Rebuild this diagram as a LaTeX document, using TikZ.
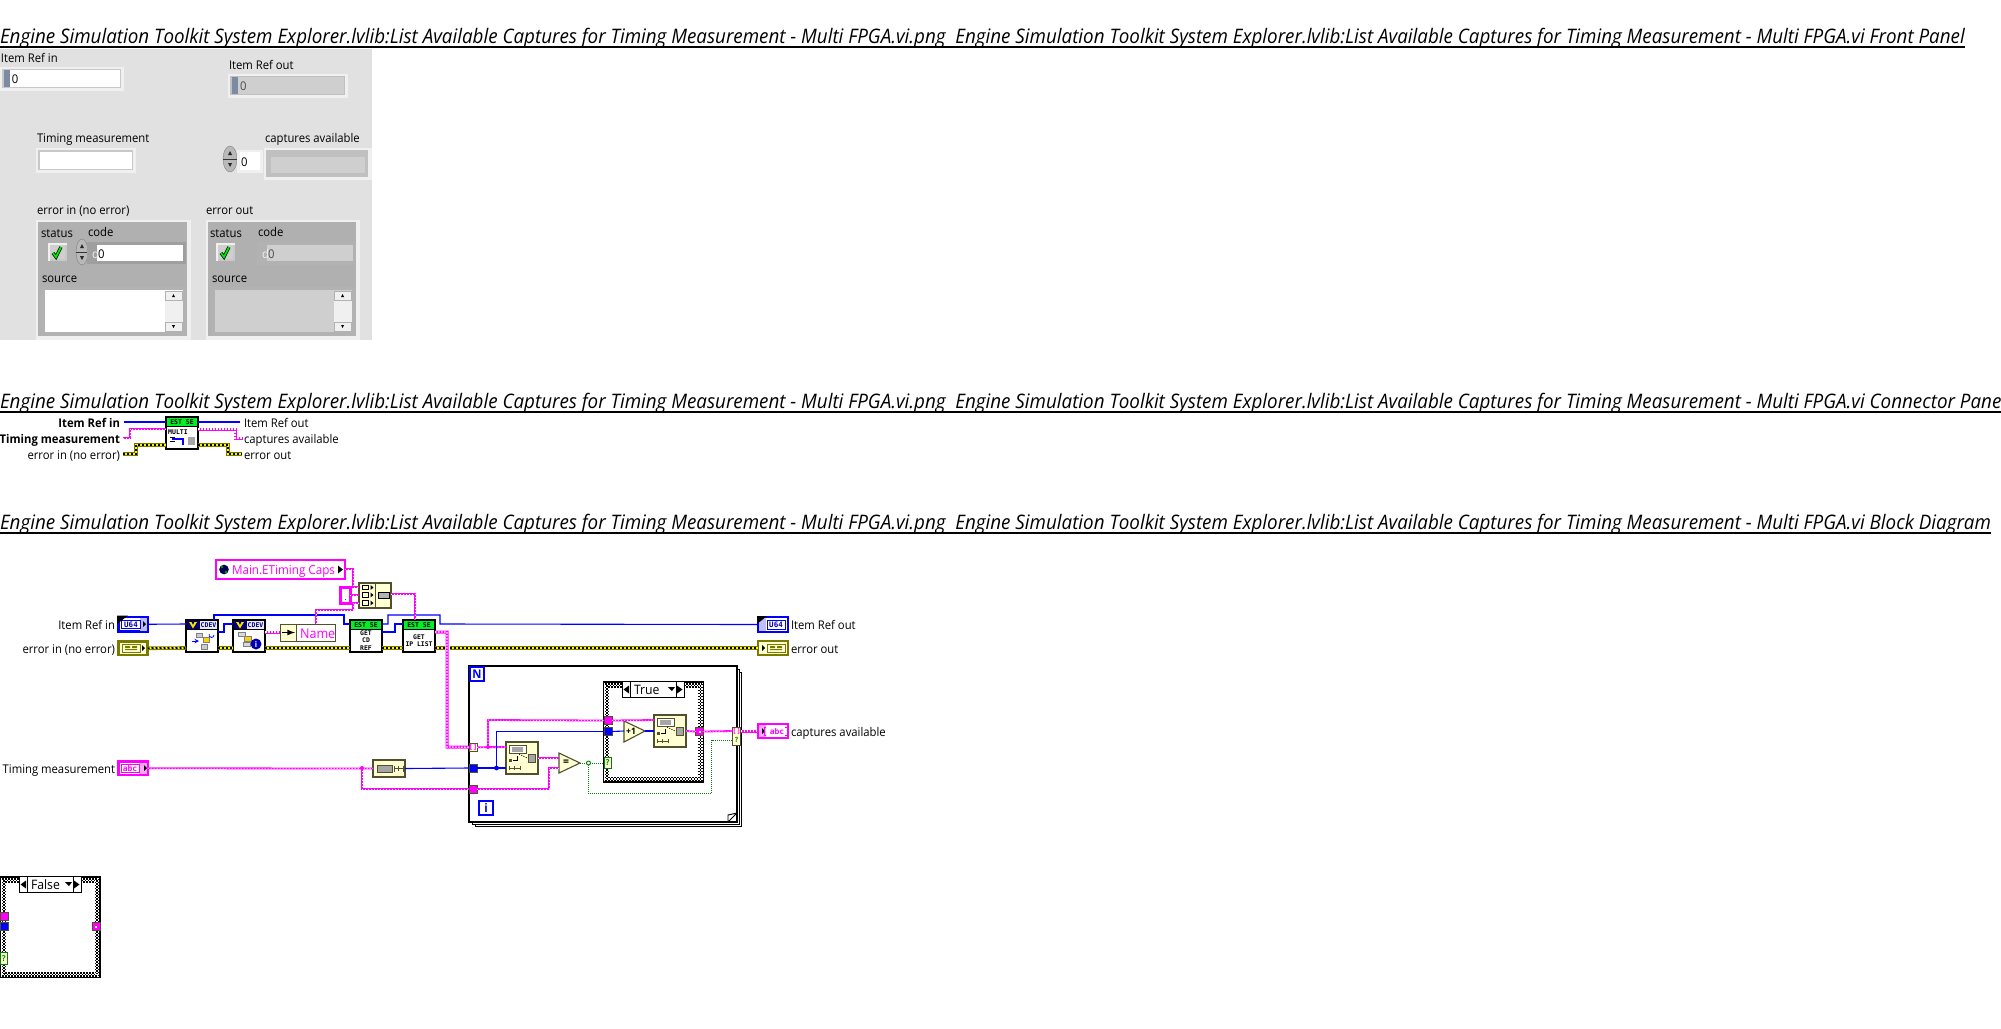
\documentclass[tikz,border=0pt]{standalone}
\usepackage{fontspec}
\setmainfont[FakeStretch=0.94]{Open Sans}
\newfontfamily\mon{DejaVu Sans Mono}
\usetikzlibrary{shapes.geometric}
\definecolor{mag}{HTML}{FF00FF}
\definecolor{pbg}{HTML}{E1E1E1}
\definecolor{clu}{HTML}{B0B0B0}
\definecolor{ind}{HTML}{CFCFCF}
\definecolor{lite}{HTML}{F0F0F0}
\definecolor{fn}{HTML}{FFFFD2}
\definecolor{fnb}{HTML}{50502E}
\definecolor{blw}{HTML}{0000FF}
\definecolor{oliv}{HTML}{7A7A00}
\definecolor{grw}{HTML}{008000}
\definecolor{slate}{HTML}{7D8AA5}
\definecolor{hdr}{HTML}{00F028}
\newcommand\labf{\fontsize{12}{14}\selectfont}
\newcommand\bx[6][]{\pgfmathsetmacro\bxcx{(#3+#5)/2}\pgfmathsetmacro\bxcy{(#4+#6)/2}\pgfmathsetmacro\bxw{#5-#3}\pgfmathsetmacro\bxh{#6-#4}\node[rect,#1,minimum width=\bxw pt,minimum height=\bxh pt] (#2) at (\bxcx,\bxcy) {};}
\newcommand\tx[4][]{\node[lab,#1] (#2) at (#3) {#4};}
\tikzset{
 x=1pt,y=-1pt,
 rect/.style={rectangle,inner sep=0pt,outer sep=0pt},
 lab/.style={inner sep=0pt,outer sep=0pt,font=\labf,text=black,anchor=base west},
 labr/.style={lab,anchor=base east},
 title/.style={inner sep=0pt,outer sep=0pt,font=\fontsize{20}{24}\selectfont\itshape,anchor=base west},
 rule/.style={draw=black,line width=2pt},
 frm/.style={fill=lite},
 bwire/.style={draw=blw,line width=1.1pt},
 pwire/.style={preaction={draw=mag,line width=1.8pt,solid},draw=white,line width=.6pt,dash pattern=on 1pt off 2pt},
 pawire/.style={preaction={draw=mag,line width=3pt,solid},draw=white,line width=1.2pt,dash pattern=on 1.5pt off 1.5pt},
 ewire/.style={preaction={draw=oliv,line width=3.6pt,solid},preaction={draw=yellow,line width=2pt,solid},draw=black,line width=2pt,dash pattern=on 2pt off 2pt},
 gwire/.style={draw=grw,line width=.9pt,dash pattern=on 1pt off 1pt},
 fnode/.style={fill=fn,draw=fnb,line width=1.1pt},
 vibox/.style={fill=white,draw=black,line width=1.1pt},
 tick/.style={font=\fontsize{7}{8}\selectfont\bfseries\mon,text=black,inner sep=0pt,align=center},
 tun/.style={draw=fnb,line width=.8pt},
 sel/.style={fill=white,draw=black,line width=1pt},
 loopb/.style={fill=white,draw=black,line width=.85pt},
 chk/.style={draw=black,line width=1.5pt,dash pattern=on 1.5pt off 1.5pt},
}
\newcommand\chkbtn[2]{\begin{scope}[shift={(#1,#2)}]
 \fill[lite] (0,0) rectangle (19,18); \fill[clu!70!white] (2,2) rectangle (19,18); \fill[ind] (2,2) rectangle (17,16);
 \draw[black,line width=3.2pt] (5,10) -- (8,14) -- (13,4);
 \draw[green!90!black,line width=1.8pt] (5,10) -- (8,14) -- (13,4);
\end{scope}}
\newcommand\spin[3]{\fill[gray!55,draw=gray] (#1,#2) ellipse (#3 and 13);
 \draw[gray!40!black,line width=.4pt] (#1-#3,#2) -- (#1+#3,#2);
 \fill[gray!30!black] (#1,#2-8) -- (#1-2,#2-4) -- (#1+2,#2-4) -- cycle;
 \fill[gray!30!black] (#1,#2+8) -- (#1-2,#2+4) -- (#1+2,#2+4) -- cycle;}
\newcommand\scroll[2]{\begin{scope}[shift={(#1,#2)}]
 \fill[gray!12] (0,0) rectangle (18,41);
 \fill[lite,draw=gray!60,line width=.5pt] (0,0) rectangle (17,9);
 \fill[lite,draw=gray!60,line width=.5pt] (0,31) rectangle (17,40);
 \fill[black] (8.5,3) -- (7,6) -- (10,6) -- cycle;
 \fill[black] (8.5,37) -- (7,34) -- (10,34) -- cycle;
\end{scope}}
\newcommand\idxicon[2]{\begin{scope}[shift={(#1,#2)}]
 \draw[fnb,fill=white,line width=.7pt] (3,3) rectangle (20,11);
 \fill[gray!70] (6,4.5) rectangle (17,9.5);
 \fill[gray!70,draw=fnb,line width=.5pt] (22,12) rectangle (29,20);
 \fill[fnb] (3,17) rectangle (6,20);
 \draw[black,line width=.8pt] (7,18) -- (11,18) -- (11,14);
 \draw[black,line width=.8pt,dash pattern=on 1pt off 1.5pt] (13,12) -- (21,16);
 \draw[fnb,line width=.8pt] (3,24) -- (3,28) (3,26) -- (14,26) (8,24) -- (8,28) (14,24) -- (14,28);
\end{scope}}
\newcommand\casestr[5]{\bx[fill=white,draw=black,line width=1.4pt]{#1}{#2}{#3}{#4}{#5}
 \foreach \dd in {1.75,3.25,4.75}{
  \draw[chk] (#2+\dd,#3+\dd) -- (#4-\dd,#3+\dd);
  \draw[chk] (#2+\dd,#5-\dd) -- (#4-\dd,#5-\dd);
  \draw[chk] (#2+\dd,#3+\dd) -- (#2+\dd,#5-\dd);
  \draw[chk] (#4-\dd,#3+\dd) -- (#4-\dd,#5-\dd);}}
\newcommand\selector[4]{\bx[sel]{#1}{#2}{#3}{#2+62}{#3+16}
 \draw[black,line width=1pt] (#2+8,#3) -- (#2+8,#3+16) (#2+54,#3) -- (#2+54,#3+16);
 \fill[black] (#2+1.5,#3+8) -- (#2+7,#3+4) -- (#2+7,#3+12) -- cycle;
 \fill[black] (#2+60.5,#3+8) -- (#2+55,#3+4) -- (#2+55,#3+12) -- cycle;
 \fill[black] (#2+50,#3+9.5) -- (#2+46,#3+5.5) -- (#2+53,#3+5.5) -- cycle;
 \node[lab,anchor=base west,font=\fontsize{13}{14}\selectfont] at (#2+12,#3+12.5) {#4};}
\newcommand\cdev[3]{\bx[vibox]{#1}{#2}{#3}{#2+32}{#3+32}
 \fill[blue!45!black] (#2+.6,#3+.6) rectangle (#2+14,#3+9);
 \fill[blue!8] (#2+14,#3+.6) rectangle (#2+31.4,#3+9);
 \fill[yellow!85!orange] (#2+3,#3+2) -- (#2+7,#3+8.5) -- (#2+11,#3+2) -- (#2+8.5,#3+2) -- (#2+7,#3+5) -- (#2+5.5,#3+2) -- cycle;
 \node[font=\fontsize{6.5}{7}\selectfont\bfseries\mon,text=blue!50!black,inner sep=0pt] at (#2+22.5,#3+4.8) {CDEV};
 \draw[draw=black,line width=1pt] (#2,#3+9) -- (#2+32,#3+9);}
\newcommand\estn[4]{\bx[vibox]{#1}{#2}{#3}{#2+32}{#3+32}
 \fill[hdr] (#2+.6,#3+.6) rectangle (#2+31.4,#3+9);
 \draw[black,line width=1pt] (#2,#3+9) -- (#2+32,#3+9);
 \node[tick,font=\fontsize{6.5}{7}\selectfont\bfseries\mon] at (#2+16,#3+4.8) {EST SE};
 \node[tick,font=\fontsize{6.4}{7.4}\selectfont\bfseries\mon] at (#2+16,#3+20.5) {#4};}
\begin{document}
\begin{tikzpicture}
\useasboundingbox (0,0) rectangle (2001,1028);
\fill[white] (0,0) rectangle (2001,1028);
% ---------- titles
\node[title] (t1) at (0,43.5) {Engine Simulation Toolkit System Explorer.lvlib:List Available Captures for Timing Measurement - Multi FPGA.vi.png\ \ Engine Simulation Toolkit System Explorer.lvlib:List Available Captures for Timing Measurement - Multi FPGA.vi Front Panel};
\draw[rule] (t1.base west|-0,46.5) -- (t1.base east|-0,46.5);
\node[title] (t2) at (0,408.5) {Engine Simulation Toolkit System Explorer.lvlib:List Available Captures for Timing Measurement - Multi FPGA.vi.png\ \ Engine Simulation Toolkit System Explorer.lvlib:List Available Captures for Timing Measurement - Multi FPGA.vi Connector Pane};
\draw[rule] (t2.base west|-0,411.5) -- (t2.base east|-0,411.5);
\node[title] (t3) at (0,529.5) {Engine Simulation Toolkit System Explorer.lvlib:List Available Captures for Timing Measurement - Multi FPGA.vi.png\ \ Engine Simulation Toolkit System Explorer.lvlib:List Available Captures for Timing Measurement - Multi FPGA.vi Block Diagram};
\draw[rule] (t3.base west|-0,532.5) -- (t3.base east|-0,532.5);
% ---------- front panel
\bx[fill=pbg]{panel}{0}{49}{372}{340}
\tx{l1}{1,62}{Item Ref in}
\bx[frm]{f1}{0}{67}{124}{91}
\bx[fill=clu!70!white]{f1b}{2}{69}{121}{88}
\bx[fill=white]{f1c}{4}{70}{120}{87}
\bx[fill=slate]{f1d}{4}{70}{10}{87}
\tx{v1}{12,83}{0}
\tx{l2}{229,69}{Item Ref out}
\bx[frm]{f2}{228}{74}{348}{98}
\bx[fill=clu!80!white]{f2b}{230}{76}{345}{95}
\bx[fill=ind]{f2c}{232}{77}{344}{94}
\bx[fill=slate]{f2d}{232}{77}{238}{94}
\tx[text=black!70]{v2}{240,90}{0}
\tx{l3}{37,142}{Timing measurement}
\bx[frm]{f3}{36}{148}{136}{173}
\bx[fill=clu!70!white]{f3b}{38}{150}{133}{170}
\bx[fill=white]{f3c}{40}{152}{132}{169}
\tx{l4}{265,142}{captures available}
\bx[frm]{f4}{264}{148}{372}{180}
\bx[fill=clu!80!white]{f4b}{266}{150}{368}{177}
\bx[fill=ind]{f4c}{271}{157}{365}{173}
\spin{230}{159}{7}
\bx[frm]{f5}{237}{150}{263}{173}
\bx[fill=white]{f5b}{240}{152}{260}{170}
\tx{v5}{241,166}{0}
\tx{l5}{37,214}{error in (no error)}
\bx[fill=lite]{c1}{36}{220}{191}{340}
\bx[fill=clu]{c1b}{38}{222}{187}{336}
\tx{l6}{41,237}{status}
\tx{l7}{88,236}{code}
\chkbtn{48}{243}
\spin{82}{252}{6}
\bx[fill=gray!75]{c1c}{87}{242}{186}{264}
\bx[fill=white]{c1d}{97}{245}{183}{261}
\tx[text=lite]{c1dl}{92,258}{d}
\tx{v6}{98,258}{0}
\tx{l8}{42,282}{source}
\bx[fill=gray!60]{s1}{41}{287}{187}{336}
\bx[fill=white]{s1b}{45}{290}{183}{332}
\scroll{165}{291}
\tx{l9}{206,214}{error out}
\bx[fill=lite]{c2}{206}{220}{360}{340}
\bx[fill=clu]{c2b}{208}{222}{356}{336}
\tx{l10}{210,237}{status}
\tx{l11}{258,236}{code}
\chkbtn{216}{243}
\bx[fill=gray!60]{c2c}{257}{242}{356}{265}
\bx[fill=ind]{c2d}{267}{245}{353}{261}
\tx[text=lite]{c2dl}{262,258}{d}
\tx[text=black!70]{v7}{268,258}{0}
\tx{l12}{212,282}{source}
\bx[fill=gray!60]{s2}{211}{287}{356}{336}
\bx[fill=ind]{s2b}{215}{290}{352}{332}
\scroll{334}{291}
% ---------- connector pane
\estn{cp}{166}{417}{}
\node[tick,font=\fontsize{6.5}{7.4}\selectfont\bfseries\mon,anchor=west] (cptx) at (168,432) {MULTI};
\draw[black,line width=.9pt] (170,437) -- (175,437) (170,441) -- (175,441);
\draw[blue,line width=1.4pt] (172,439) -- (183,439) -- (183,445);
\fill[gray!70] (188,437) rectangle (195,445);
\node[labr,font=\labf\bfseries] (cl1) at (120,427) {Item Ref in};
\node[labr,font=\labf\bfseries] (cl2) at (120,443) {Timing measurement};
\node[labr] (cl3) at (120,459) {error in (no error)};
\node[lab] (cl4) at (244,427) {Item Ref out};
\node[lab] (cl5) at (244,443) {captures available};
\node[lab] (cl6) at (244,459) {error out};
\draw[bwire] ([xshift=4pt]cl1.east|-0,422) -- (cp.west|-0,422);
\draw[bwire] (cp.east|-0,422) -- ([xshift=-4pt]cl4.west|-0,422);
\draw[pwire] (123,438) -- (130,438) -- (130,429) -- (cp.west|-0,429);
\draw[pawire] (cp.east|-0,429) -- (235,429) -- (235,438) -- (243,438);
\draw[ewire] (123,454) -- (136,454) -- (136,445) -- (cp.west|-0,445);
\draw[ewire] (cp.east|-0,445) -- (228,445) -- (228,454) -- (242,454);
% ---------- block diagram: nodes
\node[labr] (bl1) at (115,629) {Item Ref in};
\node[labr] (bl2) at (115,653) {error in (no error)};
\node[labr] (bl3) at (115,773) {Timing measurement};
\bx[fill=white,draw=blue,line width=2.4pt]{tr1}{118.5}{617}{147.5}{631.5}
\bx[fill=blue!25,draw=none]{tr1a}{140}{618}{146.5}{630.5}
\draw[blue,line width=.8pt] (121.5,620) rectangle (140,628.5);
\fill[black] (117,615.5) -- (128,615.5) -- (117,624) -- cycle;
\fill[black] (146,624) -- (143,621) -- (143,627) -- cycle;
\node[font=\fontsize{7.5}{8}\selectfont\bfseries\mon,text=blue!70!black,inner sep=0pt] (tr1t) at (131,624.5) {U64};
\bx[fill=fn,draw=oliv,line width=2.4pt]{tr2}{118.5}{641.5}{147.5}{655}
\draw[oliv,line width=.8pt] (122,644) rectangle (140,652);
\fill[oliv] (125,646) rectangle (130,648) (132,646) rectangle (137,648) (125,649) rectangle (137,650);
\fill[black] (145,648) -- (142,645) -- (142,651) -- cycle;
\bx[fill=white,draw=mag,line width=2.4pt]{tr3}{118.5}{761.5}{147.5}{775}
\bx[fill=mag!35,draw=none]{tr3a}{139}{762.5}{146.5}{774}
\draw[mag,line width=.8pt] (121.5,764) rectangle (139,772);
\node[font=\fontsize{8}{8}\selectfont\bfseries\mon,text=mag,inner sep=0pt] (tr3t) at (130,768.5) {abc};
\fill[black] (147,768) -- (144,765) -- (144,771) -- cycle;
\cdev{a}{186}{620}
\draw[blue,line width=1pt,->,>=stealth] (192,641) -- (199,641);
\fill[yellow!70!orange,draw=gray,line width=.5pt] (203,637) rectangle (209,642);
\fill[gray!40,draw=gray,line width=.5pt] (196,633) rectangle (202,637) (201,644) rectangle (207,649);
\draw[blue,line width=.8pt] (214,635) arc (0:200:2.5);
\cdev{b}{233}{620}
\fill[gray!30,draw=gray,line width=.5pt] (238,632) rectangle (245,636) (243,642) rectangle (250,646);
\fill[yellow!70!orange,draw=gray,line width=.5pt] (244,636) rectangle (251,641);
\fill[blue!70!black] (256,644) circle (5.5);
\node[font=\fontsize{8}{8}\selectfont\bfseries,text=white,inner sep=0pt] (bi) at (256,644) {i};
\bx[fill=white,draw=fnb,line width=.9pt]{nm}{280}{624}{335}{641}
\bx[fill=fn,draw=fnb,line width=.9pt]{nmc}{280}{624}{296}{641}
\draw[black,line width=1.6pt,-latex] (282,632.5) -- (295,632.5);
\node[lab,anchor=base west,text=mag,font=\fontsize{13.4}{16}\selectfont] (nmt) at (300,638) {Name};
\estn{cd}{350}{620}{GET\\CD\\REF}
\estn{ip}{403}{620}{GET\\IP LIST}
\bx[fill=white,draw=mag,line width=2pt]{gv}{216}{560}{345}{579}
\fill[blue!35!black] (224,569.5) circle (4.8);
\fill[green!60!black] (222,567) circle (1.4) (226,572) circle (1.5);
\node[lab,anchor=base west,text=mag,font=\fontsize{12.4}{15}\selectfont] (gvt) at (232,574) {Main.ETiming Caps};
\fill[black] (343,569.5) -- (338,565.5) -- (338,573.5) -- cycle;
\bx[fill=white,draw=mag,line width=3pt]{dot}{340.5}{587.5}{350}{603}
\fill[black!70] (345,599) rectangle (346,600);
\bx[fnode]{fmt}{359}{583}{391}{608}
\draw[fnb,line width=1pt] (375,583) -- (375,608);
\foreach \yy in {587.5,595,603}{\draw[black,line width=.8pt] (362,\yy-2.2) rectangle (368,\yy+2.2); \fill[black] (373.5,\yy) -- (370.5,\yy-2.5) -- (370.5,\yy+2.5) -- cycle;}
\fill[gray!60,draw=black,line width=.8pt] (378,592) rectangle (389,598);
\bx[fnode]{srch}{373}{760}{405}{777}
\fill[gray!70,draw=fnb,line width=.6pt] (377,765) rectangle (392,772);
\draw[fnb,line width=.8pt] (394,765.5) -- (394,771.5) (394,768.5) -- (403,768.5) (398,766) -- (398,771) (403,765.5) -- (403,771.5);
\bx[loopb]{lp3}{475}{672}{741}{826}
\bx[loopb]{lp2}{472}{669}{739}{824}
\bx[fill=white,draw=black,line width=1.1pt]{lp}{469}{666}{737}{822}
\draw[black,line width=.9pt] (728,822) -- (728,815) -- (737,813) (728,822) -- (737,813);
\bx[fill=white,draw=blue,line width=1.8pt]{nbx}{470}{667}{484}{681}
\node[font=\fontsize{12}{12}\selectfont\bfseries,text=blue,inner sep=0pt] (nt) at (477,674) {N};
\bx[fill=white,draw=blue,line width=1.8pt]{ibx}{479}{801}{493}{815}
\node[font=\fontsize{12}{12}\selectfont\bfseries,text=blue,inner sep=0pt] (it) at (486,808) {i};
\casestr{cs}{603.5}{682}{703.5}{782}
\selector{st}{622}{681.5}{True}
\bx[tun,fill=fn]{tarr}{469.5}{743.5}{477}{751}
\node[font=\fontsize{7}{7}\selectfont\bfseries\mon,text=mag,inner sep=0pt] (tarrt) at (473,747) {[]};
\bx[tun,fill=blw]{tbl}{469}{764}{477}{772}
\bx[tun,fill=mag]{tpk}{469}{785}{477}{793}
\bx[fnode]{ia1}{506}{742}{538}{774}
\idxicon{506}{742}
\bx[fnode]{ia2}{654}{715}{686}{747}
\idxicon{654}{715}
\draw[fnode] (559,753) -- (580,763) -- (559,773) -- cycle;
\coordinate (eqo) at (580,763); \coordinate (eqa) at (559,758); \coordinate (eqb) at (559,768);
\node[font=\fontsize{11}{11}\selectfont\bfseries,inner sep=0pt] (eqt) at (566,763) {=};
\draw[fnode] (624,721) -- (645,731) -- (624,742) -- cycle;
\coordinate (p1i) at (624,731); \coordinate (p1o) at (645,731);
\node[font=\fontsize{9}{9}\selectfont\bfseries,inner sep=0pt] (p1t) at (631,731.5) {+1};
\bx[tun,fill=mag]{cp1}{604}{716.5}{612}{724.5}
\bx[tun,fill=blw]{cb1}{604}{727.5}{612}{735.5}
\bx[draw=grw,line width=.9pt,fill=fn]{cq1}{604}{757.5}{611}{768.5}
\node[font=\fontsize{8}{8}\selectfont\bfseries\mon,text=grw,inner sep=0pt] (cq1t) at (607.5,763) {?};
\bx[tun,fill=mag]{co1}{695.5}{727.5}{703.5}{735.5}
\fill[white] (698.5,730.5) rectangle (700.5,732.5);
\bx[tun,fill=fn]{ot}{732.5}{727.5}{740.5}{745}
\node[font=\fontsize{7}{7}\selectfont\bfseries\mon,text=mag,inner sep=0pt] (ott) at (736.5,731.5) {[]};
\node[font=\fontsize{7}{7}\selectfont\bfseries\mon,text=grw,inner sep=0pt] (ott2) at (736.5,740) {?};
\bx[fill=white,draw=blue,line width=1.6pt]{tr4}{758}{617}{788}{632}
\bx[fill=blue!25,draw=none]{tr4a}{759}{618}{766}{631}
\draw[blue,line width=.8pt] (767,620) rectangle (785,629);
\fill[black] (757,616) -- (767,616) -- (757,624) -- cycle;
\node[font=\fontsize{7.5}{8}\selectfont\bfseries\mon,text=blue!70!black,inner sep=0pt] (tr4t) at (776,624.5) {U64};
\node[lab] (bl4) at (791,629) {Item Ref out};
\bx[fill=fn,draw=oliv,line width=1.6pt]{tr5}{758}{641}{788}{655}
\draw[oliv,line width=.8pt] (767,644) rectangle (785,652);
\fill[oliv] (770,646) rectangle (775,648) (777,646) rectangle (782,648) (770,649) rectangle (782,650);
\fill[black] (765,648) -- (762,645) -- (762,651) -- cycle;
\node[lab] (bl5) at (791,653) {error out};
\bx[fill=white,draw=mag,line width=1.4pt]{tr6}{758}{724}{788}{738}
\bx[fill=mag!35,draw=none]{tr6a}{759}{725}{766}{737}
\fill[black] (765,731) -- (762,728) -- (762,734) -- cycle;
\node[font=\fontsize{8}{8}\selectfont\bfseries\mon,text=mag,inner sep=0pt] (tr6t) at (777,731.5) {abc};
\draw[mag,line width=.8pt] (766,727) -- (764,727) -- (764,735) -- (766,735) (785,727) -- (787,727) -- (787,735) -- (785,735);
\node[lab] (bl6) at (791,736) {captures available};
% ---------- block diagram: wires
\draw[bwire] (tr1.east) -- (a.west|-0,624);
\draw[bwire] (a.north-|214,0) -- (214,615) -- (344,615) -- (344,624) -- (cd.west|-0,624);
\draw[bwire] (a.east|-0,632) -- (224,632) -- (224,624) -- (b.west|-0,624);
\draw[bwire] (cd.east|-0,624) -- (388,624) -- (388,615) -- (440,615) -- (440,624) -- (tr4.west);
\draw[bwire] (cd.east|-0,632) -- (395,632) -- (395,624) -- (ip.west|-0,624);
\draw[ewire] (tr2.east) -- (a.west|-0,648);
\draw[ewire] (a.east|-0,648) -- (b.west|-0,648);
\draw[ewire] (b.east|-0,648) -- (cd.west|-0,648);
\draw[ewire] (cd.east|-0,648) -- (ip.west|-0,648);
\draw[ewire] (ip.east|-0,648) -- (445,648);
\draw[ewire] (450,648) -- (tr5.west);
\draw[pawire] (b.east|-0,632) -- (nm.west|-0,632);
\draw[pwire] (gv.east|-0,569) -- (353,569) -- (353,587) -- (fmt.west|-0,587);
\draw[pwire] (dot.east|-0,595) -- (fmt.west|-0,595);
\draw[pwire] (nm.north-|316,0) -- (316,610) -- (353,610) -- (353,603) -- (fmt.west|-0,603);
\draw[pwire] (fmt.east|-0,594) -- (415,594) -- (ip.north-|415,0);
\draw[pawire] (ip.east|-0,632) -- (447,632) -- (447,747) -- (tarr.west);
\draw[pwire] (tr3.east) -- (srch.west);
\draw[pwire] (362,768) -- (362,789) -- (tpk.west);
\fill[mag] (362,768) circle (2);
\draw[bwire] (srch.east) -- (tbl.west);
\draw[pwire] (tarr.east) -- (ia1.west|-0,747);
\draw[pwire] (488,747) -- (488,720) -- (cp1.west);
\fill[mag] (488,747) circle (2);
\draw[pwire] (cp1.east) -- (ia2.west|-0,720);
\draw[bwire] (tbl.east) -- (ia1.west|-0,768);
\draw[bwire] (496.5,768) -- (496.5,731.5) -- (cb1.west);
\fill[blw] (496.5,768) circle (2.4);
\draw[bwire] (cb1.east) -- (p1i);
\draw[bwire] (p1o) -- (ia2.west|-0,731);
\draw[pwire] (ia1.east|-0,758) -- (eqa);
\draw[pwire] (tpk.east) -- (549,789) -- (549,768) -- (eqb);
\draw[gwire] (eqo) -- (cq1.west);
\draw[gwire] (588,763) -- (588,793) -- (711.5,793) -- (711.5,740) -- (ot.west|-0,740);
\draw[grw,line width=.9pt,fill=white] (588.5,763) circle (2);
\draw[pwire] (ia2.east|-0,731) -- (co1.west);
\draw[pwire] (co1.east) -- (ot.west|-0,731);
\draw[pawire] (ot.east|-0,731) -- (tr6.west);
% ---------- false case
\casestr{cf}{0.5}{877}{100}{977.5}
\selector{sf}{19}{876.5}{False}
\bx[tun,fill=mag]{fp}{0.5}{912}{8}{920}
\bx[tun,fill=blw]{fb}{0.5}{922.5}{8}{930.5}
\bx[draw=grw,line width=.9pt,fill=fn]{fq}{0.5}{952.5}{7}{964}
\node[font=\fontsize{8}{8}\selectfont\bfseries\mon,text=grw,inner sep=0pt] (fqt) at (3.7,958.5) {?};
\bx[tun,fill=mag]{fo}{92.5}{922.5}{100}{930.5}
\fill[white] (95.3,925.5) rectangle (97.3,927.5);
\end{tikzpicture}
\end{document}
